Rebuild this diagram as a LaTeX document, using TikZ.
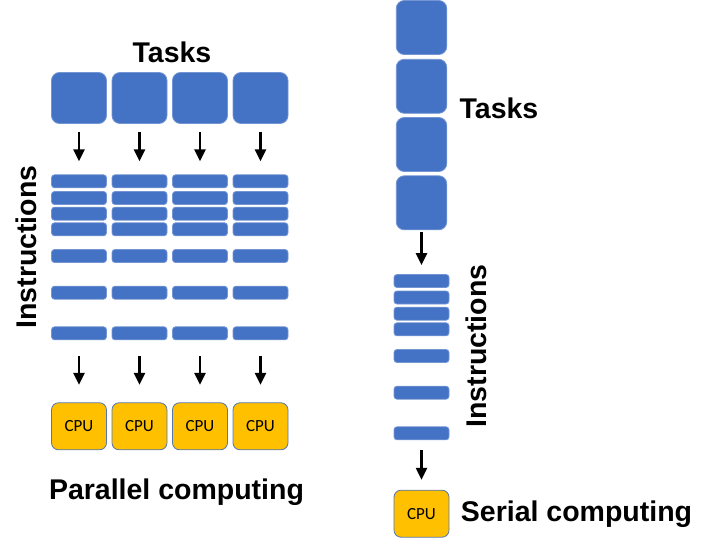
\documentclass[tikz,border=0pt]{standalone}
\usepackage{fontspec}
\setmainfont{Liberation Sans}
\newfontfamily\cpufont{Carlito}
\usetikzlibrary{arrows.meta}

\definecolor{taskblue}{HTML}{4472C4}
\definecolor{cpuyellow}{HTML}{FFC000}

\tikzset{
  task/.style={rectangle, rounded corners=8pt, fill=taskblue, draw=taskblue!75!white,
    line width=0.8pt, inner sep=0pt, minimum width=55pt, minimum height=51pt},
  instr/.style={rectangle, rounded corners=3pt, fill=taskblue, draw=taskblue!75!white,
    line width=0.8pt, inner sep=0pt, minimum width=55pt, minimum height=13pt},
  cpu/.style={rectangle, rounded corners=7pt, fill=cpuyellow, draw=taskblue!70!gray,
    line width=0.8pt, inner sep=0pt, minimum width=55pt, minimum height=47pt,
    font=\cpufont\fontsize{17}{19}\selectfont},
  title/.style={font=\bfseries\fontsize{28.5}{30}\selectfont, inner sep=0pt},
  arr/.style={-{Triangle[length=12pt,width=11pt]}, line width=2.3pt}
}

\begin{document}
\begin{tikzpicture}[x=1pt, y=-1pt]

% Page size of the reference
\useasboundingbox (0,0) rectangle (713,546);

% ---- Parallel computing (left) ----
\node[title] (ptasks) at (172,52) {Tasks};
\node[title, rotate=90] (pinstr) at (26,247) {Instructions};

\foreach \c/\x in {1/79, 2/139.5, 3/200, 4/260.5} {
  \node[task] (pt\c) at (\x,98) {};
  \foreach \r/\y in {1/181.3, 2/198, 3/213.7, 4/229.3, 5/256, 6/292.7, 7/333.3}
    \node[instr] (pb\c-\r) at (\x,\y) {};
  \node[cpu] (pc\c) at (\x,426.3) {CPU};
  % arrows in and out of the instruction column
  \draw[arr, shorten <=8pt, shorten >=13pt] (pt\c) -- (pb\c-1);
  \draw[arr, shorten <=16pt, shorten >=17.5pt] (pb\c-7) -- (pc\c);
}

\node[title] (ptitle) at (176.5,492) {Parallel computing};

% ---- Serial computing (right) ----
\foreach \r/\y in {1/27.5, 2/86.3, 3/144.5, 4/202.8}
  \node[task, minimum width=50.5pt, minimum height=54pt] (st\r) at (421.5,\y) {};
\node[title] (stasks) at (499,108) {Tasks};

\foreach \r/\y in {1/281, 2/297.5, 3/313.7, 4/329.3, 5/356, 6/392.7, 7/433.3}
  \node[instr] (sb\r) at (421.5,\y) {};
\node[title, rotate=90] (sinstr) at (476.5,346) {Instructions};

\node[cpu] (sc) at (421.5,513.7) {CPU};
\node[title] (stitle) at (576.5,514) {Serial computing};

% arrows of the serial column
\draw[arr, shorten <=2pt, shorten >=9pt] (st4) -- (sb1);
\draw[arr, shorten <=10pt, shorten >=10pt] (sb7) -- (sc);

\end{tikzpicture}
\end{document}
